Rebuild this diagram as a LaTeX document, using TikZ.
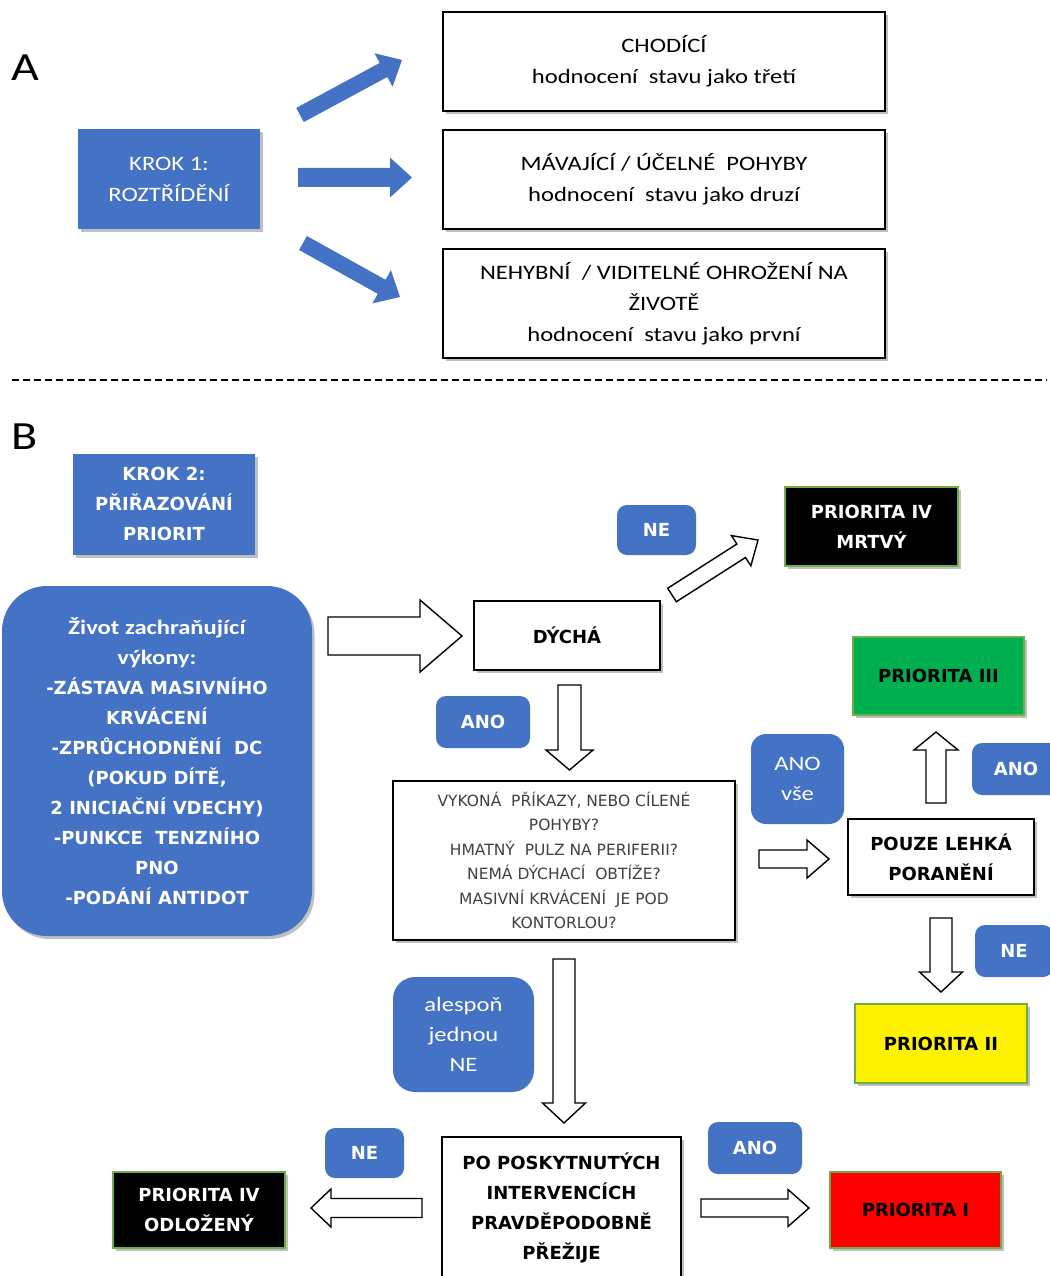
\documentclass[tikz,border=0pt]{standalone}
\usepackage{fontspec}
\setmainfont{Carlito}[FakeStretch=1.2]
\newfontfamily\dvs{DejaVu Sans}
\usetikzlibrary{calc,shadows}
\definecolor{myblue}{HTML}{4472C4}
\definecolor{prgreen}{HTML}{70AD47}
\definecolor{pgreen}{HTML}{00B050}
\definecolor{qgray}{HTML}{404040}
\newcommand{\blockarr}[6]{%
  \coordinate (bab) at ($(#3)!#6!(#2)$);
  \path[#1] ($(#2)!#4!90:(#3)$) -- ($(bab)!#4!90:(#3)$) -- ($(bab)!#5!90:(#3)$) -- (#3)
     -- ($(bab)!#5!-90:(#3)$) -- ($(bab)!#4!-90:(#3)$) -- ($(#2)!#4!-90:(#3)$) -- cycle;}
\tikzset{
  shad/.style={drop shadow={shadow xshift=2.5pt, shadow yshift=-3pt, opacity=0.25, fill=black}},
  ftA/.style={font=\fontsize{20.5}{31}\selectfont},
  ftB/.style={font=\dvs\bfseries\fontsize{18}{30}\selectfont},
  ftQ/.style={font=\dvs\fontsize{15.5}{24.5}\selectfont, text=qgray},
  ftL/.style={font=\fontsize{20.5}{30}\selectfont},
  wbox/.style={draw=black, line width=1.6pt, fill=white, align=center, inner sep=0pt, shad},
  bbox/.style={fill=myblue, text=white, align=center, inner sep=0pt, shad},
  lbl/.style={fill=myblue, text=white, rounded corners=10pt, align=center, inner sep=0pt, ftL},
  prio/.style={draw=prgreen, line width=1.2pt, align=center, inner sep=0pt, shad, ftB},
  barrow/.style={fill=myblue},
  oarrow/.style={draw=black, line width=1.4pt, fill=white, line join=miter},
}
\begin{document}
\begin{tikzpicture}[x=1pt, y=-1pt]
\useasboundingbox (0,0) rectangle (1049,1276);
% ---------------- Part A
\node[inner sep=0pt, font=\fontsize{40}{40}\selectfont] (labA) at (25.5,68) {A};
\node[bbox, ftA, minimum width=182pt, minimum height=100pt] (krok1) at (169,179) {KROK 1:\\ROZTŘÍDĚNÍ};
\node[wbox, ftA, minimum width=442pt, minimum height=99pt] (c1) at (664,61.5) {CHODÍCÍ\\hodnocení\ \ stavu jako třetí};
\node[wbox, ftA, minimum width=442pt, minimum height=99pt] (c2) at (664,179.5) {MÁVAJÍCÍ / ÚČELNÉ\ \ POHYBY\\hodnocení\ \ stavu jako druzí};
\node[wbox, ftA, minimum width=442pt, minimum height=109pt] (c3) at (664,303.5) {NEHYBNÍ\ \ / VIDITELNÉ OHROŽENÍ NA\\ŽIVOTĚ\\hodnocení\ \ stavu jako první};
\coordinate (a1t) at (300,115); \coordinate (a1h) at (402,60);
\coordinate (a2t) at (298,177.5); \coordinate (a2h) at (412,177.5);
\coordinate (a3t) at (303,243); \coordinate (a3h) at (400,297);
\blockarr{barrow}{a1t}{a1h}{8pt}{19pt}{21pt}
\blockarr{barrow}{a2t}{a2h}{9.5pt}{20pt}{22pt}
\blockarr{barrow}{a3t}{a3h}{8pt}{19pt}{21pt}
\coordinate (sepl) at (12,380); \coordinate (sepr) at (1047,380);
\draw[line width=1.2pt, dash pattern=on 7pt off 4pt] (sepl) -- (sepr);
% ---------------- Part B
\node[inner sep=0pt, font=\fontsize{40}{40}\selectfont] (labB) at (25,437) {B};
\node[bbox, ftB, minimum width=182pt, minimum height=101pt] (krok2) at (164,504) {KROK 2:\\PŘIŘAZOVÁNÍ\\PRIORIT};
\node[bbox, ftB, rounded corners=45pt, minimum width=310pt, minimum height=350pt] (zivot) at (157,761)
 {{\rmfamily\bfseries\fontsize{20.5}{30}\selectfont Život zachraňující}\\{\rmfamily\bfseries\fontsize{20.5}{30}\selectfont výkony:}\\-ZÁSTAVA MASIVNÍHO\\KRVÁCENÍ\\-ZPRŮCHODNĚNÍ\ \ DC\\(POKUD DÍTĚ,\\2 INICIAČNÍ VDECHY)\\-PUNKCE\ \ TENZNÍHO\\PNO\\-PODÁNÍ ANTIDOT};
\node[wbox, ftB, minimum width=186pt, minimum height=69pt] (dycha) at (567,635.5) {DÝCHÁ};
\node[lbl, ftB, minimum width=79pt, minimum height=50pt] (ne1) at (656.5,530) {NE};
\node[prio, fill=black, text=white, minimum width=173pt, minimum height=79pt] (mrtvy) at (871.5,526.5) {PRIORITA IV\\MRTVÝ};
\node[lbl, ftB, minimum width=94pt, minimum height=52pt] (ano1) at (483,722) {ANO};
\node[wbox, ftQ, minimum width=342pt, minimum height=159pt] (q) at (564,860.5)
 {VYKONÁ\ \ PŘÍKAZY, NEBO CÍLENÉ\\POHYBY?\\HMATNÝ\ \ PULZ NA PERIFERII?\\NEMÁ DÝCHACÍ\ \ OBTÍŽE?\\MASIVNÍ KRVÁCENÍ\ \ JE POD\\KONTORLOU?};
\node[lbl, rounded corners=15pt, minimum width=93pt, minimum height=90pt] (anovse) at (797.5,779) {ANO\\vše};
\node[wbox, ftB, minimum width=186pt, minimum height=76pt] (pouze) at (941,857) {POUZE LEHKÁ\\PORANĚNÍ};
\node[prio, fill=pgreen, text=black, minimum width=171pt, minimum height=78pt] (p3) at (938.5,676) {PRIORITA III};
\node[lbl, ftB, minimum width=88pt, minimum height=52pt] (ano2) at (1016,769) {ANO};
\node[lbl, ftB, minimum width=78pt, minimum height=52pt] (ne2) at (1014,951) {NE};
\node[prio, fill=yellow, text=black, minimum width=172pt, minimum height=79pt] (p2) at (941,1043.5) {PRIORITA II};
\node[lbl, rounded corners=22pt, minimum width=141pt, minimum height=115pt] (alespon) at (463.5,1034.5) {alespoň\\jednou\\NE};
\node[wbox, ftB, minimum width=239pt, minimum height=141pt] (po) at (561.5,1207.5) {PO POSKYTNUTÝCH\\INTERVENCÍCH\\PRAVDĚPODOBNĚ\\PŘEŽIJE};
\node[lbl, ftB, minimum width=79pt, minimum height=50pt] (ne3) at (364.5,1153) {NE};
\node[prio, fill=black, text=white, minimum width=172pt, minimum height=76pt] (odl) at (199,1210) {PRIORITA IV\\ODLOŽENÝ};
\node[lbl, ftB, minimum width=94pt, minimum height=52pt] (ano3) at (755,1148) {ANO};
\node[prio, fill=red, text=black, minimum width=171pt, minimum height=76pt] (p1) at (915.5,1210) {PRIORITA I};
% outline arrows
\coordinate (b0t) at (328,636); \coordinate (b0h) at (462,636);
\coordinate (b1t) at (672,595); \coordinate (b1h) at (758,540);
\coordinate (b2t) at (569.5,685); \coordinate (b2h) at (569.5,770);
\coordinate (b3t) at (759,859); \coordinate (b3h) at (829,859);
\coordinate (b4t) at (936,803); \coordinate (b4h) at (936,732);
\coordinate (b5t) at (941,918); \coordinate (b5h) at (941,992);
\coordinate (b6t) at (564,959); \coordinate (b6h) at (564,1123);
\coordinate (b7t) at (422,1208); \coordinate (b7h) at (311,1208);
\coordinate (b8t) at (701,1208); \coordinate (b8h) at (809,1208);
\blockarr{oarrow}{b0t}{b0h}{19pt}{36pt}{42pt}
\blockarr{oarrow}{b1t}{b1h}{8pt}{18pt}{20pt}
\blockarr{oarrow}{b2t}{b2h}{11.5pt}{23.5pt}{20pt}
\blockarr{oarrow}{b3t}{b3h}{9pt}{19pt}{22pt}
\blockarr{oarrow}{b4t}{b4h}{10pt}{22pt}{18pt}
\blockarr{oarrow}{b5t}{b5h}{11pt}{21.5pt}{20pt}
\blockarr{oarrow}{b6t}{b6h}{11pt}{21.5pt}{20pt}
\blockarr{oarrow}{b7t}{b7h}{9.5pt}{19pt}{20pt}
\blockarr{oarrow}{b8t}{b8h}{9pt}{18.5pt}{21pt}
\end{tikzpicture}
\end{document}
